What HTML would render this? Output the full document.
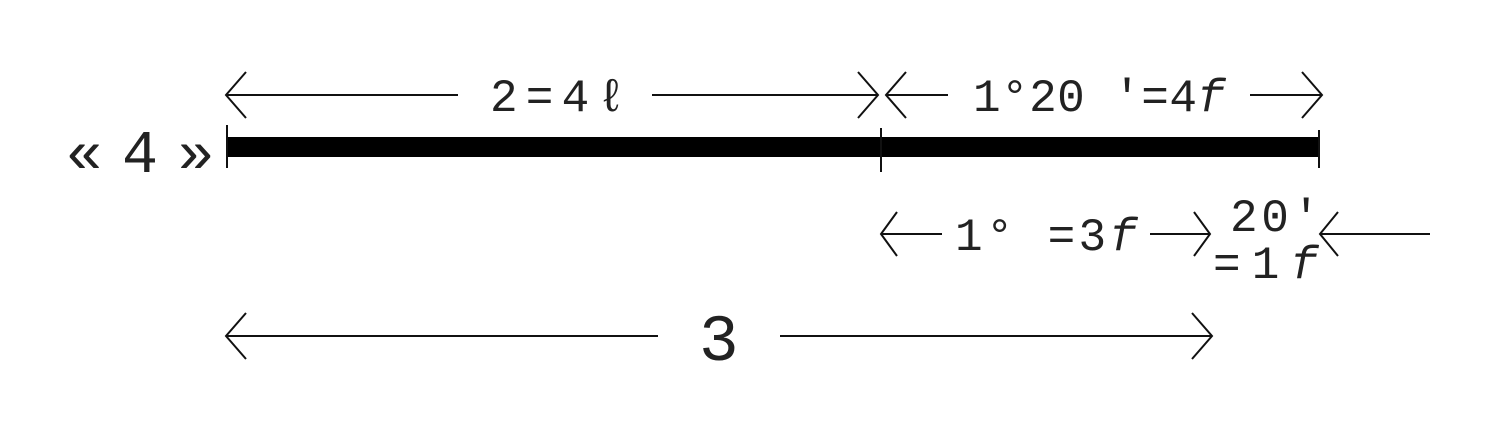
<!DOCTYPE html>
<html><head><meta charset="utf-8"><style>
html,body{margin:0;padding:0;background:#fff;}
svg{display:block}
text{font-family:"Liberation Mono","DejaVu Sans Mono",monospace;fill:#222;font-weight:normal}
</style></head><body>
<svg width="1500" height="429" viewBox="0 0 1500 429" xmlns="http://www.w3.org/2000/svg">
<g stroke="#111" stroke-width="2" fill="none">
<rect x="227" y="137" width="1091" height="20" fill="#000" stroke="none"/>
<line x1="227" y1="125" x2="227" y2="168"/>
<line x1="881" y1="128" x2="881" y2="172"/>
<line x1="1319" y1="130" x2="1319" y2="168"/>
<polyline points="246,72 226,95 246,118"/><line x1="226" y1="95" x2="458" y2="95"/>
<polyline points="858,72 878,95 858,118"/><line x1="652" y1="95" x2="878" y2="95"/>
<polyline points="906,72 886,95 906,118"/><line x1="886" y1="95" x2="948" y2="95"/>
<polyline points="1302,72 1322,95 1302,118"/><line x1="1250" y1="95" x2="1322" y2="95"/>
<polyline points="897,212 881,234 897,256"/><line x1="881" y1="234" x2="942" y2="234"/>
<polyline points="1194,212 1210,234 1194,256"/><line x1="1150" y1="234" x2="1210" y2="234"/>
<polyline points="1338,212 1320,234 1338,256"/><line x1="1320" y1="234" x2="1430" y2="234"/>
<polyline points="246,313 226,336 246,359"/><line x1="226" y1="336" x2="658" y2="336"/>
<polyline points="1192,313 1212,336 1192,359"/><line x1="780" y1="336" x2="1212" y2="336"/>
</g>
<text x="490" y="111" font-size="46" textLength="135" lengthAdjust="spacing">2=4ℓ</text>
<text x="973" y="111" font-size="46" textLength="252" lengthAdjust="spacing">1°20 ′=4<tspan font-style="italic">f</tspan></text>
<text x="955" y="250" font-size="46" textLength="182" lengthAdjust="spacing">1° =3<tspan font-style="italic">f</tspan></text>
<text x="1230" y="231" font-size="46" textLength="90" lengthAdjust="spacing">20′</text>
<text x="1213" y="278" font-size="46" textLength="105" lengthAdjust="spacing">=1<tspan font-style="italic">f</tspan></text>
<text x="699" y="360" font-size="66">3</text>
<text x="66" y="172" font-size="60" textLength="148" lengthAdjust="spacing">«4»</text>
</svg>
</body></html>
